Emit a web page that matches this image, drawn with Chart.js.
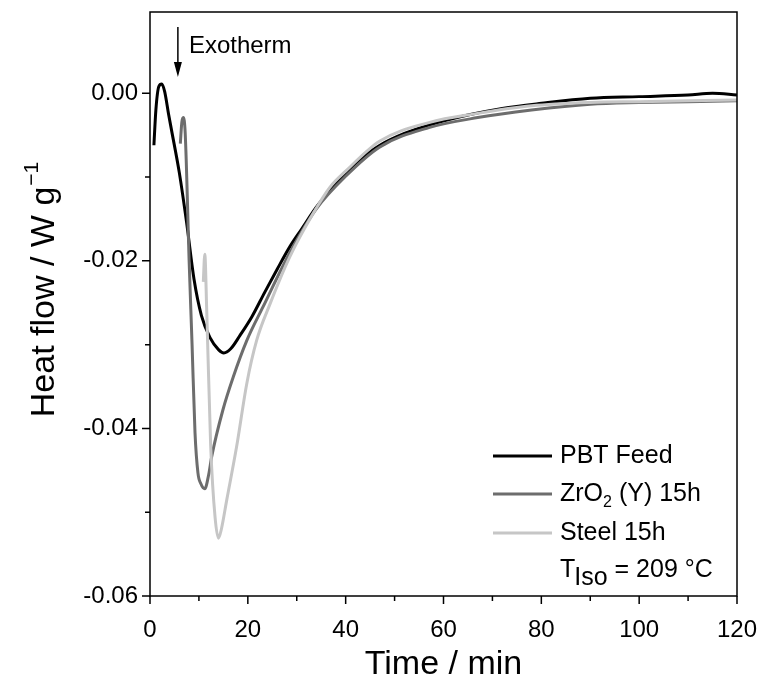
<!DOCTYPE html>
<html>
<head>
<meta charset="utf-8">
<script src="https://cdn.jsdelivr.net/npm/chart.js@4.4.1/dist/chart.umd.min.js"></script>
<style>
  html, body { margin: 0; padding: 0; background: #fff; }
  #wrap { width: 759px; height: 684px; }
</style>
</head>
<body>
<div id="wrap"><canvas id="chart" width="759" height="684"></canvas></div>
<script>
// values (time in min, heat flow in W/g)
const pbtTime = [0.8, 1.2, 1.8, 2.4, 3.0, 3.8, 4.4, 6.0, 7.5, 9.0, 10.5, 12.3, 14.0, 15.1, 16.5, 18.4, 20.8, 23.5, 26.0, 28.6, 31.0, 34.0, 36.8, 40, 44, 47, 52, 57, 65, 72, 80, 90, 100, 110, 115, 120];
const pbtFlow = [-0.0062, -0.002, 0.0008, 0.0011, 0.0002, -0.0025, -0.0044, -0.0095, -0.0155, -0.0222, -0.0265, -0.0292, -0.0306, -0.0310, -0.0305, -0.0289, -0.0267, -0.0237, -0.0210, -0.0183, -0.0162, -0.0136, -0.0116, -0.0095, -0.0074, -0.0062, -0.0048, -0.0038, -0.0026, -0.0018, -0.0012, -0.0006, -0.0004, -0.0002, 0.0000, -0.0002];

const zrTime = [6.2, 6.5, 6.8, 7.2, 8.0, 8.6, 9.2, 9.8, 10.4, 11.2, 12.0, 12.6, 14.9, 17.0, 19.8, 23.1, 28.6, 34.0, 40, 47, 57, 67, 78, 90, 100, 110, 120];
const zrFlow = [-0.006, -0.0035, -0.0029, -0.0048, -0.0200, -0.0300, -0.0405, -0.0453, -0.0466, -0.0472, -0.0455, -0.0434, -0.0378, -0.0339, -0.0295, -0.0255, -0.0190, -0.0138, -0.0099, -0.0064, -0.0041, -0.0029, -0.0020, -0.0013, -0.0011, -0.0010, -0.0009];

const steelTime = [10.9, 11.2, 11.6, 12.4, 13.3, 14.0, 14.6, 15.7, 17.7, 19.8, 21.8, 24.5, 28.6, 33.4, 36.8, 40, 47, 57, 67, 78, 90, 100, 110, 120];
const steelFlow = [-0.0225, -0.0192, -0.0260, -0.0420, -0.0506, -0.0531, -0.0520, -0.0485, -0.0422, -0.0346, -0.0295, -0.0252, -0.0195, -0.0143, -0.0112, -0.0093, -0.0057, -0.0035, -0.0024, -0.0015, -0.0011, -0.0010, -0.0009, -0.0008];

const seriesNames = ['PBT Feed', 'ZrO2 (Y) 15h', 'Steel 15h'];
const seriesColors = ['#000000', '#6d6d6d', '#c6c6c6'];

const xMajor = [0, 20, 40, 60, 80, 100, 120];
const yMajor = [0.00, -0.02, -0.04, -0.06];
const yMajorLabels = ['0.00', '-0.02', '-0.04', '-0.06'];

function toPoints(xs, ys) {
  return xs.map((x, i) => ({ x: x, y: ys[i] }));
}

const FONT = '"Liberation Sans", Arial, sans-serif';

const decorations = {
  id: 'decorations',
  afterDraw(chart) {
    const c = chart.ctx;
    const xs = chart.scales.x, ys = chart.scales.y;
    const a = chart.chartArea;
    c.save();
    c.strokeStyle = '#000';
    c.fillStyle = '#000';
    c.lineWidth = 1.5;
    // frame
    c.strokeRect(a.left, a.top, a.right - a.left, a.bottom - a.top);

    // x ticks (major every 20, minor every 10)
    c.beginPath();
    for (let v = 0; v <= 120; v += 10) {
      const px = xs.getPixelForValue(v);
      const len = (v % 20 === 0) ? 8 : 5;
      c.moveTo(px, a.bottom);
      c.lineTo(px, a.bottom + len);
    }
    // y ticks (major every 0.02, minor every 0.01)
    for (let k = 0; k <= 6; k++) {
      const v = -k * 0.01;
      const py = ys.getPixelForValue(v);
      const len = (k % 2 === 0) ? 8 : 5;
      c.moveTo(a.left, py);
      c.lineTo(a.left - len, py);
    }
    c.stroke();

    // tick labels
    c.font = '24px ' + FONT;
    c.textAlign = 'center';
    c.textBaseline = 'middle';
    xMajor.forEach(v => c.fillText(String(v), xs.getPixelForValue(v), a.bottom + 34));
    c.textAlign = 'right';
    yMajor.forEach((v, i) => c.fillText(yMajorLabels[i], a.left - 12, ys.getPixelForValue(v)));

    // axis titles
    c.font = '34px ' + FONT;
    c.textAlign = 'center';
    c.fillText('Time / min', (a.left + a.right) / 2, 665);

    c.save();
    c.translate(45, 290);
    c.rotate(-Math.PI / 2);
    c.textAlign = 'left';
    c.font = '34px ' + FONT;
    const main = 'Heat flow / W g';
    const w1 = c.measureText(main).width;
    c.font = '21px ' + FONT;
    const sup = '\u22121';
    const w2 = c.measureText(sup).width;
    const start = -(w1 + w2) / 2;
    c.font = '34px ' + FONT;
    c.fillText(main, start, 0);
    c.font = '21px ' + FONT;
    c.fillText(sup, start + w1 + 1, -13);
    c.restore();

    // exotherm arrow
    const ax = xs.getPixelForValue(5.7);
    c.lineWidth = 1.5;
    c.beginPath();
    c.moveTo(ax, 27);
    c.lineTo(ax, 68);
    c.stroke();
    c.beginPath();
    c.moveTo(ax - 4, 62);
    c.lineTo(ax + 4, 62);
    c.lineTo(ax, 77);
    c.closePath();
    c.fill();
    c.font = '24px ' + FONT;
    c.textAlign = 'left';
    c.fillText('Exotherm', ax + 11, 46);

    // legend
    const lx0 = 493, lx1 = 552, tx = 560;
    const rows = [456, 494, 533];
    c.font = '25px ' + FONT;
    rows.forEach((ry, i) => {
      c.strokeStyle = seriesColors[i];
      c.lineWidth = 3;
      c.beginPath();
      c.moveTo(lx0, ry);
      c.lineTo(lx1, ry);
      c.stroke();
    });
    c.fillStyle = '#000';
    c.fillText('PBT Feed', tx, rows[0]);
    // ZrO2 with subscript
    let t = 'ZrO';
    c.fillText(t, tx, rows[1]);
    let w = c.measureText(t).width;
    c.font = '16px ' + FONT;
    c.fillText('2', tx + w, rows[1] + 9);
    const w3 = c.measureText('2').width;
    c.font = '25px ' + FONT;
    c.fillText(' (Y) 15h', tx + w + w3, rows[1]);
    c.fillText('Steel 15h', tx, rows[2]);
    // T_Iso
    const ry4 = 570;
    c.fillText('T', tx, ry4);
    w = c.measureText('T').width;
    c.fillText('Iso', tx + w - 1, ry4 + 8);
    const wi = c.measureText('Iso').width;
    c.fillText(' = 209 \u00B0C', tx + w - 1 + wi, ry4);
    c.restore();
  }
};

new Chart(document.getElementById('chart').getContext('2d'), {
  type: 'scatter',
  data: {
    datasets: [
      { label: seriesNames[0], data: toPoints(pbtTime, pbtFlow), borderColor: seriesColors[0], order: 2 },
      { label: seriesNames[1], data: toPoints(zrTime, zrFlow), borderColor: seriesColors[1], order: 1 },
      { label: seriesNames[2], data: toPoints(steelTime, steelFlow), borderColor: seriesColors[2], order: 0 }
    ].map(d => Object.assign(d, {
      showLine: true,
      pointRadius: 0,
      borderWidth: 3,
      cubicInterpolationMode: 'monotone',
      fill: false
    }))
  },
  options: {
    responsive: false,
    animation: false,
    layout: { padding: { left: 0, top: 12, right: 22, bottom: 0 } },
    plugins: { legend: { display: false }, tooltip: { enabled: false } },
    scales: {
      x: {
        type: 'linear', min: 0, max: 120,
        ticks: { display: false }, grid: { display: false }, border: { display: false },
        afterFit(s) { s.height = 88; }
      },
      y: {
        type: 'linear', min: -0.06, max: 0.0097,
        ticks: { display: false }, grid: { display: false }, border: { display: false },
        afterFit(s) { s.width = 150; }
      }
    }
  },
  plugins: [decorations]
});
</script>
</body>
</html>
